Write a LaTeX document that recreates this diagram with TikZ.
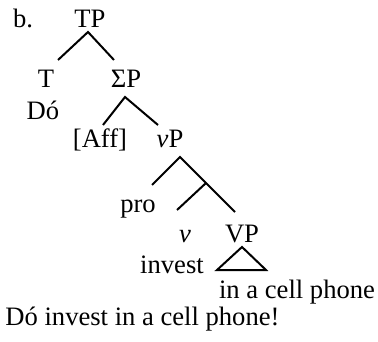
\documentclass[tikz,border=0pt]{standalone}
\usepackage{fontspec}
\setmainfont{Liberation Serif}
\usetikzlibrary{positioning}

\begin{document}
\begin{tikzpicture}[x=0.5pt,y=-0.5pt,font=\fontsize{13.3}{16}\selectfont,
    lbl/.style={anchor=base,inner sep=0pt},
    br/.style={line width=1pt}]
  \useasboundingbox (0,0) rectangle (378,341);
  % labels
  \node[lbl] (ex) at (23,28) {b.};
  \node[lbl] (tp) at (90,28) {TP};
  \node[lbl] (t) at (46,88) {T};
  \node[lbl] (do) at (43,120) {Dó};
  \node[lbl] (sp) at (126,88) {ΣP};
  \node[lbl] (aff) at (100,148) {[Aff]};
  \node[lbl] (vp) at (170,148) {\textit{v}P};
  \node[lbl] (pro) at (138,212) {pro};
  \node[lbl] (v) at (185,242) {\textit{v}};
  \node[lbl] (VP) at (242,242) {VP};
  \node[lbl] (inv) at (172,273) {invest};
  \node[lbl] (obj) at (297,298) {in a cell phone};
  \node[lbl,anchor=base west] (sent) at (5,325) {Dó invest in a cell phone!};
  % branch points
  \coordinate (tp-top) at (88,32);
  \coordinate (tp-l) at (58,60);
  \coordinate (tp-r) at (114,60);
  \coordinate (sp-top) at (125,97);
  \coordinate (sp-l) at (103,125);
  \coordinate (sp-r) at (158,125);
  \coordinate (vp-top) at (180,157);
  \coordinate (vp-l) at (152,185);
  \coordinate (vbar) at (206,183);
  \coordinate (vbar-l) at (177,210);
  \coordinate (vbar-r) at (235,212);
  \coordinate (tri-top) at (242,247);
  \coordinate (tri-l) at (217,270);
  \coordinate (tri-r) at (266,270);
  % branches
  \draw[br] (tp-l) -- (tp-top) -- (tp-r);
  \draw[br] (sp-l) -- (sp-top) -- (sp-r);
  \draw[br] (vp-l) -- (vp-top) -- (vbar) -- (vbar-r);
  \draw[br] (vbar) -- (vbar-l);
  \draw[br,line join=miter] (tri-top) -- (tri-l) -- (tri-r) -- cycle;
\end{tikzpicture}
\end{document}
